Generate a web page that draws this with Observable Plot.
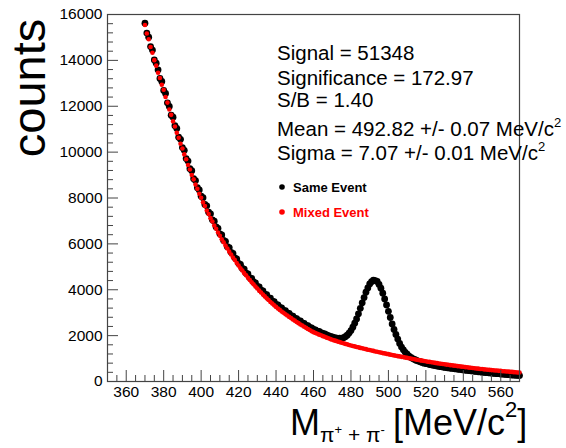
<!DOCTYPE html>
<html><head><meta charset="utf-8">
<script src="https://cdn.jsdelivr.net/npm/d3@7"></script>
<script src="https://cdn.jsdelivr.net/npm/@observablehq/plot@0.6"></script>
<style>body{margin:0;background:#fff;} svg{display:block}</style>
</head><body><div id="chart"></div>
<script>
// Invariant mass bins: 1 MeV/c^2 wide, first bin at 370
const massStart = 370;
const massStep = 1;

// Same-event counts (black), 370..570
const sameEvent = [
15620,15190,15010,14600,14450,14020,13880,13590,13210,13080,
12690,12560,12150,11990,11610,11520,11150,11030,10650,10560,
10200,10080,9720,9610,9280,9190,8840,8760,8450,8350,
8080,8010,7720,7660,7380,7310,7050,6990,6740,6680,
6440,6390,6150,6110,5880,5840,5630,5580,5390,5340,
5150,5110,4930,4900,4720,4690,4520,4490,4340,4300,
4150,4120,3980,3950,3810,3790,3650,3630,3500,3480,
3360,3340,3230,3210,3100,3090,2990,2970,2870,2850,
2760,2740,2650,2640,2550,2530,2450,2430,2360,2340,
2270,2250,2190,2180,2130,2100,2070,2030,2000,1970,
1940,1910,1900,1880,1890,1880,1910,1950,2020,2110,
2220,2370,2540,2730,2950,3190,3430,3660,3890,4080,
4250,4350,4420,4400,4360,4230,4070,3850,3600,3340,
3060,2790,2510,2270,2050,1850,1660,1500,1380,1270,
1190,1110,1050,1000,960,920,890,860,830,800,
780,770,740,730,705,695,675,665,645,635,
615,610,590,588,570,566,548,544,527,523,
505,501,484,480,465,460,444,441,425,421,
406,403,390,387,372,370,357,354,341,339,
326,324,311,309,297,295,283,281,270,268,
258];

// Mixed-event counts (red), 370..570
const mixedEvent = [
15540,15170,14920,14580,14330,14010,13770,13460,13230,12940,
12720,12400,12160,11860,11625,11340,11115,10840,10625,10365,
10160,9900,9690,9440,9240,9000,8812,8585,8400,8188,
8008,7810,7648,7458,7302,7122,6973,6802,6658,6496,
6355,6202,6070,5925,5799,5660,5540,5407,5292,5165,
5053,4937,4835,4724,4627,4520,4427,4325,4236,4139,
4052,3960,3877,3789,3710,3625,3550,3469,3397,3319,
3252,3182,3122,3055,2997,2933,2878,2816,2763,2703,
2652,2593,2543,2487,2439,2385,2339,2287,2244,2193,
2152,2113,2082,2043,2014,1977,1948,1912,1884,1849,
1822,1791,1769,1739,1717,1688,1667,1639,1619,1591,
1572,1547,1530,1505,1489,1465,1449,1425,1410,1387,
1372,1349,1334,1311,1297,1275,1261,1239,1226,1205,
1192,1171,1158,1138,1125,1105,1094,1074,1063,1043,
1032,1012,1000,981,969,950,939,921,910,892,
882,864,854,837,827,810,801,785,776,760,
752,736,729,713,706,691,684,669,663,648,
642,627,620,606,600,586,580,566,560,547,
542,529,525,513,508,496,492,480,477,465,
462,450,447,436,433,421,419,408,405,394,
392];

const xDomain = [350, 570];
const yDomain = [0, 16000];
const xTicks = [360,380,400,420,440,460,480,500,520,540,560];
const xMinorTicks = [350,355,365,370,375,385,390,395,405,410,415,425,430,435,445,450,455,465,470,475,485,490,495,505,510,515,525,530,535,545,550,555,565,570];
const yTicks = [0,2000,4000,6000,8000,10000,12000,14000,16000];
const yMinorTicks = [400,800,1200,1600,2400,2800,3200,3600,4400,4800,5200,5600,6400,6800,7200,7600,8400,8800,9200,9600,10400,10800,11200,11600,12400,12800,13200,13600,14400,14800,15200,15600];

const yLabel = "counts";
const statLines = [
  {text: "Signal = 51348", sup: ""},
  {text: "Significance = 172.97", sup: ""},
  {text: "S/B = 1.40", sup: ""},
  {text: "Mean = 492.82 +/- 0.07 MeV/c", sup: "2"},
  {text: "Sigma = 7.07 +/- 0.01 MeV/c", sup: "2"}
];
const legendItems = [
  {label: "Same Event", color: "#000000"},
  {label: "Mixed Event", color: "#ff0000"}
];

const same = sameEvent.map((c, i) => ({m: massStart + i * massStep, c}));
const mixed = mixedEvent.map((c, i) => ({m: massStart + i * massStep, c}));

const W = 566, H = 448, mL = 107, mR = 47, mT = 14, mB = 67;
const fw = W - mL - mR, fh = H - mT - mB;
const axisColor = "#444";
const font = '"Liberation Sans", Arial, Helvetica, sans-serif';

const svg = Plot.plot({
  width: W, height: H,
  marginLeft: mL, marginRight: mR, marginTop: mT, marginBottom: mB,
  style: {fontFamily: font, fontSize: "15.5px", color: "#000", background: "#fff"},
  x: {domain: xDomain},
  y: {domain: yDomain},
  marks: [
    Plot.dot(same, {x: "m", y: "c", r: 3.4, fill: "#000", stroke: null}),
    Plot.dot(mixed, {x: "m", y: "c", r: 2.3, fill: "#ff0000", stroke: null}),
    Plot.frame({stroke: axisColor, strokeWidth: 1.2}),
    Plot.tickX(xMinorTicks, {x: d => d, stroke: axisColor, insetTop: fh - 6}),
    Plot.tickX(xTicks, {x: d => d, stroke: axisColor, insetTop: fh - 11}),
    Plot.tickY(yMinorTicks, {y: d => d, stroke: axisColor, insetRight: fw - 6}),
    Plot.tickY(yTicks, {y: d => d, stroke: axisColor, insetRight: fw - 11}),
    Plot.axisX({ticks: xTicks, tickSize: 0, tickPadding: 4, label: null, tickFormat: d => String(d)}),
    Plot.axisY({ticks: yTicks, tickSize: 0, tickPadding: 5, label: null, tickFormat: d => String(d)})
  ]
});

const s = d3.select(svg);

// y-axis title
s.append("text")
  .attr("transform", "translate(45,88) rotate(-90)")
  .attr("text-anchor", "middle")
  .attr("font-family", font).attr("font-size", 47).attr("fill", "#000")
  .text(yLabel);

// x-axis title: M_{pi+ + pi-} [MeV/c^2]
const xt = s.append("text").attr("font-family", font).attr("fill", "#000").attr("text-anchor", "start");
xt.append("tspan").attr("x", 290).attr("y", 435).attr("font-size", 36).text("M");
xt.append("tspan").attr("y", 442).attr("font-size", 21).text("π");
xt.append("tspan").attr("y", 434).attr("font-size", 13).text("+");
xt.append("tspan").attr("y", 442).attr("font-size", 21).text(" + π");
xt.append("tspan").attr("y", 434).attr("font-size", 13).text("-");
xt.append("tspan").attr("x", 393).attr("y", 435).attr("font-size", 36).text("[MeV/c");
xt.append("tspan").attr("y", 417).attr("font-size", 22).text("2");
xt.append("tspan").attr("y", 435).attr("font-size", 36).text("]");

// statistics block
const baselines = [60, 85, 107, 136, 160];
statLines.forEach((d, i) => {
  const t = s.append("text").attr("x", 277).attr("y", baselines[i]).attr("text-anchor", "start")
    .attr("font-family", font).attr("font-size", 20.5).attr("fill", "#000");
  t.append("tspan").text(d.text);
  if (d.sup) t.append("tspan").attr("dy", -9).attr("font-size", 13).text(d.sup);
});

// legend
const legY = [187, 212];
legendItems.forEach((d, i) => {
  s.append("circle").attr("cx", 282).attr("cy", legY[i]).attr("r", 2.8).attr("fill", d.color);
  s.append("text").attr("x", 293).attr("y", legY[i] + 5).attr("text-anchor", "start")
    .attr("font-family", font).attr("font-size", 13).attr("font-weight", "bold")
    .attr("fill", d.color).text(d.label);
});

document.getElementById("chart").appendChild(svg);
</script>
</body></html>
